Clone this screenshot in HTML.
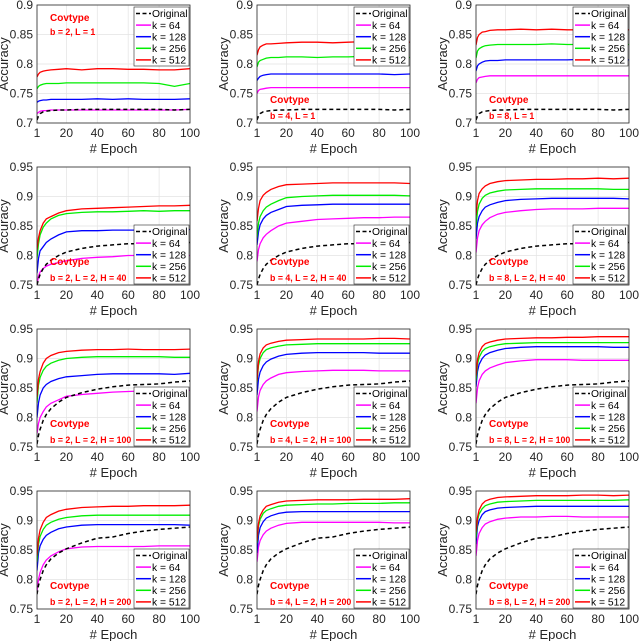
<!DOCTYPE html>
<html><head><meta charset="utf-8"><style>
html,body{margin:0;padding:0;background:#fff}
svg{display:block}
text{font-family:"Liberation Sans",sans-serif}
</style></head><body>
<svg id="fig" width="640" height="641" viewBox="0 0 640 641"></svg>
<script>
const epochs=[1,2,3,5,7,10,15,20,30,40,50,60,70,80,90,100];
const seriesNames=["Original","k = 64","k = 128","k = 256","k = 512"];
const seriesColors=["#000","#ff00ff","#0000ff","#00ee00","#ff0000"];
const xTicks=[1,20,40,60,80,100];
const yTicksRow1=[0.7,0.75,0.8,0.85,0.9];
const yTicksOther=[0.75,0.8,0.85,0.9,0.95];
const origRow1=[0.705,0.712,0.716,0.719,0.72,0.721,0.722,0.722,0.723,0.723,0.723,0.723,0.723,0.723,0.722,0.723];
const origH40=[0.75,0.76,0.768,0.778,0.785,0.792,0.8,0.806,0.812,0.816,0.818,0.82,0.82,0.821,0.822,0.822];
const origH100=[0.755,0.77,0.78,0.795,0.805,0.815,0.826,0.834,0.842,0.848,0.852,0.855,0.856,0.857,0.86,0.862];
const origH200=[0.775,0.79,0.8,0.815,0.825,0.835,0.845,0.852,0.862,0.87,0.872,0.878,0.882,0.885,0.887,0.889];
const p1=[[0.716,0.718,0.72,0.721,0.721,0.722,0.722,0.722,0.722,0.722,0.722,0.722,0.722,0.722,0.722,0.723],[0.735,0.737,0.738,0.739,0.739,0.74,0.74,0.74,0.74,0.741,0.74,0.741,0.74,0.74,0.74,0.741],[0.758,0.762,0.764,0.766,0.767,0.767,0.767,0.768,0.768,0.768,0.768,0.768,0.768,0.767,0.762,0.767],[0.778,0.783,0.786,0.788,0.789,0.79,0.791,0.792,0.79,0.792,0.792,0.791,0.791,0.79,0.79,0.792]];
const p2=[[0.75,0.755,0.757,0.758,0.759,0.76,0.76,0.76,0.76,0.76,0.76,0.76,0.76,0.76,0.76,0.76],[0.772,0.776,0.779,0.781,0.782,0.783,0.783,0.783,0.783,0.783,0.783,0.783,0.783,0.783,0.782,0.783],[0.795,0.803,0.806,0.808,0.81,0.811,0.811,0.812,0.812,0.811,0.812,0.812,0.813,0.812,0.812,0.811],[0.815,0.824,0.829,0.832,0.834,0.834,0.835,0.836,0.837,0.837,0.836,0.837,0.838,0.838,0.838,0.837]];
const p3=[[0.768,0.774,0.777,0.778,0.779,0.78,0.78,0.78,0.78,0.78,0.78,0.78,0.78,0.78,0.78,0.78],[0.788,0.797,0.8,0.803,0.805,0.806,0.806,0.807,0.807,0.807,0.807,0.807,0.808,0.807,0.807,0.807],[0.81,0.822,0.826,0.829,0.831,0.832,0.833,0.833,0.833,0.833,0.834,0.833,0.833,0.833,0.832,0.833],[0.832,0.845,0.85,0.854,0.855,0.857,0.858,0.858,0.859,0.858,0.859,0.858,0.858,0.858,0.858,0.858]];
const p4=[[0.75,0.765,0.772,0.778,0.782,0.785,0.788,0.791,0.795,0.797,0.798,0.8,0.8,0.8,0.8,0.8],[0.77,0.795,0.808,0.815,0.822,0.828,0.835,0.84,0.842,0.842,0.843,0.843,0.843,0.843,0.843,0.844],[0.795,0.82,0.835,0.848,0.855,0.862,0.868,0.871,0.873,0.874,0.874,0.875,0.876,0.875,0.876,0.876],[0.81,0.83,0.842,0.855,0.862,0.866,0.872,0.876,0.879,0.88,0.881,0.882,0.883,0.884,0.884,0.885]];
const p5=[[0.79,0.81,0.82,0.83,0.836,0.842,0.85,0.855,0.858,0.861,0.862,0.863,0.864,0.864,0.865,0.865],[0.818,0.84,0.852,0.862,0.868,0.873,0.878,0.883,0.885,0.886,0.887,0.887,0.887,0.887,0.887,0.887],[0.83,0.855,0.866,0.876,0.882,0.887,0.893,0.898,0.9,0.901,0.902,0.902,0.902,0.902,0.902,0.901],[0.858,0.88,0.893,0.902,0.907,0.912,0.917,0.92,0.921,0.922,0.923,0.923,0.923,0.923,0.923,0.922]];
const p6=[[0.805,0.83,0.842,0.852,0.858,0.864,0.87,0.873,0.876,0.878,0.879,0.879,0.879,0.88,0.88,0.88],[0.828,0.855,0.866,0.876,0.882,0.886,0.89,0.893,0.895,0.896,0.897,0.897,0.897,0.897,0.897,0.896],[0.848,0.875,0.887,0.897,0.902,0.906,0.909,0.911,0.912,0.913,0.913,0.913,0.913,0.913,0.912,0.912],[0.868,0.893,0.905,0.913,0.918,0.922,0.925,0.927,0.928,0.929,0.929,0.93,0.93,0.931,0.93,0.931]];
const p7=[[0.773,0.79,0.8,0.81,0.818,0.824,0.83,0.836,0.839,0.841,0.843,0.844,0.845,0.845,0.845,0.846],[0.8,0.825,0.838,0.85,0.856,0.861,0.866,0.869,0.871,0.873,0.874,0.874,0.874,0.874,0.873,0.875],[0.825,0.855,0.868,0.88,0.887,0.892,0.897,0.9,0.902,0.903,0.903,0.903,0.903,0.903,0.902,0.902],[0.835,0.865,0.878,0.892,0.9,0.905,0.91,0.912,0.914,0.915,0.915,0.916,0.915,0.915,0.915,0.916]];
const p8=[[0.81,0.835,0.846,0.856,0.862,0.867,0.873,0.876,0.878,0.879,0.88,0.88,0.88,0.879,0.879,0.879],[0.838,0.865,0.877,0.888,0.894,0.899,0.904,0.907,0.909,0.91,0.91,0.91,0.91,0.909,0.909,0.909],[0.86,0.888,0.9,0.91,0.915,0.918,0.921,0.923,0.924,0.925,0.925,0.925,0.925,0.925,0.925,0.925],[0.862,0.895,0.908,0.918,0.923,0.926,0.929,0.931,0.932,0.933,0.933,0.933,0.933,0.934,0.934,0.933]];
const p9=[[0.824,0.85,0.862,0.873,0.879,0.884,0.889,0.893,0.896,0.898,0.898,0.898,0.897,0.897,0.897,0.897],[0.852,0.878,0.89,0.9,0.906,0.91,0.914,0.917,0.919,0.92,0.92,0.92,0.92,0.92,0.919,0.919],[0.862,0.89,0.902,0.912,0.917,0.92,0.923,0.925,0.926,0.927,0.927,0.927,0.927,0.927,0.927,0.927],[0.87,0.898,0.91,0.92,0.925,0.928,0.931,0.933,0.934,0.935,0.935,0.936,0.936,0.937,0.937,0.937]];
const p10=[[0.78,0.8,0.812,0.825,0.833,0.84,0.847,0.852,0.855,0.856,0.856,0.856,0.856,0.857,0.857,0.857],[0.815,0.845,0.857,0.868,0.875,0.88,0.886,0.889,0.892,0.893,0.893,0.893,0.893,0.893,0.893,0.892],[0.83,0.86,0.873,0.885,0.892,0.897,0.902,0.905,0.908,0.909,0.909,0.909,0.909,0.909,0.909,0.909],[0.84,0.87,0.884,0.897,0.905,0.91,0.916,0.919,0.922,0.923,0.924,0.924,0.925,0.925,0.925,0.926]];
const p11=[[0.83,0.855,0.866,0.876,0.882,0.887,0.892,0.895,0.897,0.897,0.897,0.897,0.897,0.897,0.896,0.896],[0.845,0.875,0.888,0.898,0.904,0.908,0.912,0.914,0.915,0.915,0.915,0.915,0.915,0.915,0.915,0.915],[0.862,0.89,0.902,0.912,0.917,0.92,0.924,0.926,0.927,0.928,0.928,0.929,0.929,0.929,0.93,0.93],[0.865,0.895,0.908,0.918,0.924,0.927,0.931,0.933,0.934,0.935,0.935,0.935,0.936,0.936,0.936,0.937]];
const p12=[[0.84,0.866,0.878,0.888,0.894,0.898,0.902,0.904,0.906,0.906,0.907,0.907,0.906,0.906,0.906,0.906],[0.86,0.89,0.9,0.91,0.915,0.918,0.921,0.922,0.923,0.924,0.924,0.924,0.924,0.924,0.924,0.924],[0.87,0.9,0.911,0.92,0.925,0.928,0.931,0.932,0.933,0.934,0.934,0.934,0.934,0.934,0.934,0.935],[0.88,0.905,0.918,0.928,0.933,0.936,0.939,0.94,0.941,0.942,0.942,0.942,0.943,0.943,0.942,0.943]];
const panelSeries=[p1,p2,p3,p4,p5,p6,p7,p8,p9,p10,p11,p12];
const rowOriginals=[origRow1,origH40,origH100,origH200];
const panelLabels=["b = 2, L = 1","b = 4, L = 1","b = 8, L = 1","b = 2, L = 2, H = 40","b = 4, L = 2, H = 40","b = 8, L = 2, H = 40","b = 2, L = 2, H = 100","b = 4, L = 2, H = 100","b = 8, L = 2, H = 100","b = 2, L = 2, H = 200","b = 4, L = 2, H = 200","b = 8, L = 2, H = 200"];

const NS="http://www.w3.org/2000/svg";
const fig=document.getElementById('fig');
const colLeft=[37,257,476], rowTop=[5,167,329,491], W=153, H=118;
function mk(tag,attrs,parent){const e=document.createElementNS(NS,tag);for(const k in attrs)e.setAttribute(k,attrs[k]);parent.appendChild(e);return e;}

for(let p=0;p<12;p++){
  const r=Math.floor(p/3), c=p%3;
  const L=colLeft[c], T=rowTop[r];
  const yt=r===0?yTicksRow1:yTicksOther;
  const y0=yt[0], y1=yt[yt.length-1];
  const xs=v=>L+(v-1)/99*W;
  const ys=v=>T+H-(v-y0)/(y1-y0)*H;
  const g=mk('g',{},fig);
  
  
  mk('rect',{x:L,y:T,width:W,height:H,fill:'#fff'},g);
  xTicks.forEach(t=>{
    const gl=mk('line',{x1:xs(t),x2:xs(t),y1:T,y2:T+H,stroke:'#e3e3e3','stroke-width':0.7},g);
    
    
    const tl=mk('text',{x:xs(t),y:T+H+14,'font-size':12,fill:'#262626','text-anchor':'middle'},g);
    tl.textContent=t;
    
    
  });
  yt.forEach(t=>{
    const gl=mk('line',{x1:L,x2:L+W,y1:ys(t),y2:ys(t),stroke:'#e3e3e3','stroke-width':0.7},g);
    
    
    const tl=mk('text',{x:L-4,y:ys(t)+4,'font-size':12,fill:'#262626','text-anchor':'end'},g);
    tl.textContent=String(t);
    
    
  });
  const clipId='clip'+p;
  const cp=mk('clipPath',{id:clipId},g);
  mk('rect',{x:L,y:T,width:W,height:H},cp);
  const all=[rowOriginals[r]].concat(panelSeries[p]);
  const order=[1,2,3,4,0];
  order.forEach(s=>{
    const d=all[s].map((v,i)=>(i?'L':'M')+xs(epochs[i]).toFixed(1)+','+ys(v).toFixed(1)).join('');
    const path=mk('path',{d:d,fill:'none',stroke:seriesColors[s],'stroke-width':s===0?1.5:1.3,'clip-path':'url(#'+clipId+')'},g);
    if(s===0)path.setAttribute('stroke-dasharray','4,3');
    
    
  });
  mk('rect',{x:L,y:T,width:W,height:H,fill:'none',stroke:'#262626','stroke-width':0.8},g);
  const xl=mk('text',{x:L+W/2,y:T+H+30,'font-size':13,fill:'#262626','text-anchor':'middle'},g);
  xl.textContent='# Epoch';
  
  
  const yl=mk('text',{x:0,y:0,'font-size':13,fill:'#262626','text-anchor':'middle',transform:'translate('+(L-29)+','+(T+H/2)+') rotate(-90)'},g);
  yl.textContent='Accuracy';
  
  
  let ax=L+13, a1, a2;
  if(p===0){a1=T+16; a2=T+30;}
  else {a1=T+H-20; a2=T+H-4;}
  const t1=mk('text',{x:ax,y:a1,'font-size':10,'font-weight':'bold',fill:'#ff0000'},g);
  t1.textContent='Covtype';
  
  
  const t2=mk('text',{x:ax,y:a2,'font-size':8.8,'font-weight':'bold',fill:'#ff0000'},g);
  t2.textContent=panelLabels[p];
  
  
  const lw=55, lh=59;
  const lx=L+W-lw-1, ly=r===0?T+2:T+H-lh-1;
  const lg=mk('g',{},g);
  
  
  mk('rect',{x:lx,y:ly,width:lw,height:lh,fill:'#fff',stroke:'#262626','stroke-width':0.6},lg);
  seriesNames.forEach((n,s)=>{
    const cy=ly+6.5+s*11.6;
    const ln=mk('line',{x1:lx+2,x2:lx+17,y1:cy,y2:cy,stroke:seriesColors[s],'stroke-width':1.5},lg);
    if(s===0)ln.setAttribute('stroke-dasharray','4,2.5');
    const tx=mk('text',{x:lx+18,y:cy+3.7,'font-size':10.3,fill:'#000'},lg);
    tx.textContent=n;
    
    
  });
}
</script>
</body></html>
